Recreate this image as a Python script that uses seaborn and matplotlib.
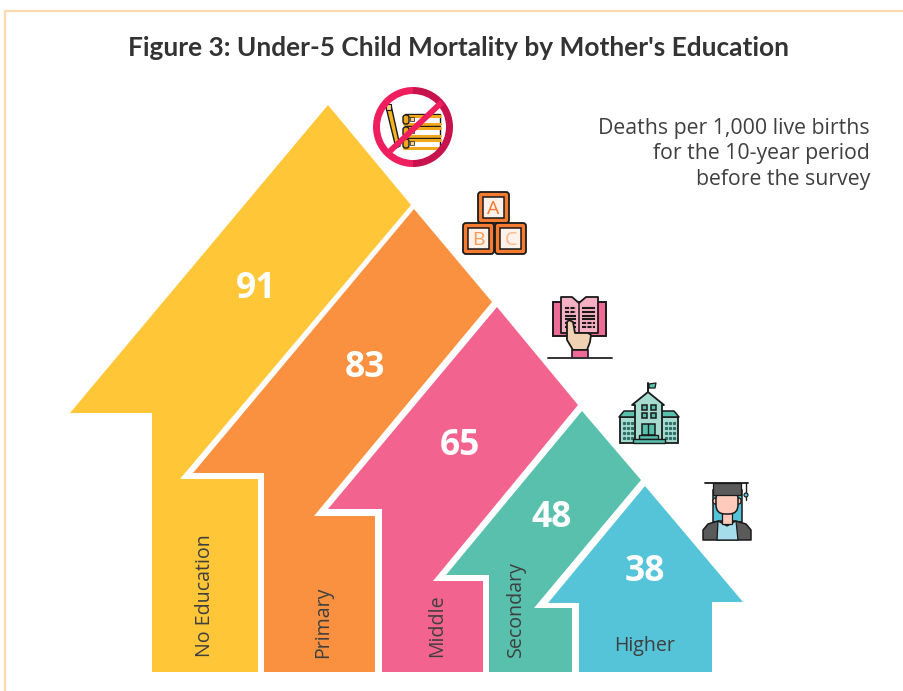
import matplotlib
matplotlib.use('Agg')
import matplotlib.pyplot as plt
import seaborn as sns
from matplotlib.patches import Circle, Ellipse, Wedge, Rectangle, FancyBboxPatch, Polygon

sns.set_theme(style='white')
plt.rcParams['font.family'] = ['Open Sans', 'DejaVu Sans']

categories = ['No Education', 'Primary', 'Middle', 'Secondary', 'Higher']
deaths = [91, 83, 65, 48, 38]
colors = ['#FFC737', '#F99141', '#F2648F', '#58C0AD', '#55C4D9']
title = "Figure 3: Under-5 Child Mortality by Mother's Education"
note = ['Deaths per 1,000 live births', 'for the 10-year period', 'before the survey']

# the arrows are a pictogram, their size is not scaled to the value
outlines = [
    [(328, 105), (411, 205), (180, 479), (258, 479), (258, 672), (152, 672), (152, 413), (70, 413)],
    [(414, 209), (492, 302), (314, 516), (375, 516), (375, 672), (264, 672), (264, 473), (193, 473)],
    [(497, 307), (578, 405), (433, 581), (483, 581), (483, 672), (382, 672), (382, 509), (328, 509)],
    [(582, 411), (641, 480), (534, 608), (572, 608), (572, 672), (489, 672), (489, 575), (446, 575)],
    [(645, 486), (743, 602), (712, 602), (712, 672), (579, 672), (579, 603), (548, 603)],
]
value_pos = [(256, 289), (365, 368), (460, 446), (552, 518), (645, 572)]
label_pos = [(205, 596), (323, 622), (437, 626), (516, 609), (645, 646)]
label_rot = [90, 90, 90, 90, 0]

TEXT = '#3F3F3F'
INK = '#1A1A1A'

fig = plt.figure(figsize=(9.04, 6.91), dpi=100)
ax = fig.add_axes([0, 0, 1, 1])
ax.set_xlim(0, 904)
ax.set_ylim(691, 0)
ax.axis('off')
palette = sns.color_palette(colors)


def poly(pts, fc, ec=INK, lw=1.1, z=5):
    ax.add_patch(Polygon(pts, closed=True, fc=fc, ec=ec, lw=lw, zorder=z, joinstyle='round'))


def box(x0, y0, x1, y1, fc, ec=INK, lw=1.1, z=5, r=0):
    if r:
        ax.add_patch(FancyBboxPatch((x0, y0), x1 - x0, y1 - y0, boxstyle=f'round,pad=0,rounding_size={r}',
                                    fc=fc, ec=ec, lw=lw, zorder=z))
    else:
        ax.add_patch(Rectangle((x0, y0), x1 - x0, y1 - y0, fc=fc, ec=ec, lw=lw, zorder=z))


# page frame
ax.plot([5, 5, 904], [691, 11, 11], color='#FDD9B0', lw=1.6, zorder=1)

ax.text(459, 48, title, ha='center', va='center', fontsize=18.95, fontweight='bold', color='#333333',
        family=['Lato', 'DejaVu Sans'])
for line, y in zip(note, [128, 153, 179]):
    ax.text(870, y, line, ha='right', va='center', fontsize=15.3, color=TEXT)

# arrows, values and category names
for i, name in enumerate(categories):
    ax.fill(*zip(*outlines[i]), color=palette[i], lw=0, zorder=2)
    ax.text(*value_pos[i], str(deaths[i]), ha='center', va='center', fontsize=25.5, fontweight='bold',
            color='white', zorder=3)
    ax.text(*label_pos[i], name, ha='center', va='center', rotation=label_rot[i], fontsize=14.1,
            color=TEXT, zorder=3)

# icon: no schooling
poly([(386, 107), (391, 105), (400, 146), (396, 148)], '#F5B324', lw=1)
box(386, 104, 391, 110, '#F7D58A', lw=0.8)
for y0 in [114, 126, 138]:
    box(405, y0, 440, y0 + 10, 'white', lw=1)
    ax.plot([404, 440], [y0 + 1.5, y0 + 1.5], color='#F2A81D', lw=2.2, zorder=5)
    ax.plot([404, 440], [y0 + 9.5, y0 + 9.5], color='#F2A81D', lw=2.2, zorder=5)
    box(403, y0 + 1, 409, y0 + 10, '#F2A81D', lw=1, r=2.5)
    box(410, y0 + 3, 414, y0 + 7, '#F7D58A', lw=0.5, z=6)
ax.add_patch(Wedge((413, 127), 40, 90, 270, width=7, fc='#EF1F5F', lw=0, zorder=6))
ax.add_patch(Wedge((413, 127), 40, 270, 450, width=7, fc='#C8124E', lw=0, zorder=6))
ax.plot([388, 442], [153, 102], color='#EF1F5F', lw=4.2, zorder=6, solid_capstyle='butt')

# icon: alphabet blocks
for x0, y0, letter, tint in [(478, 192, 'A', '#F47B30'), (463, 223, 'B', '#F99B55'), (495, 223, 'C', '#FBB587')]:
    box(x0, y0, x0 + 31, y0 + 31, '#F47B30', lw=1.3, r=3)
    box(x0 + 5, y0 + 5, x0 + 26, y0 + 26, '#FDF1EA', lw=1.1)
    ax.text(x0 + 15.5, y0 + 16.5, letter, ha='center', va='center', fontsize=14, color=tint, zorder=6)

# icon: open book in a hand
box(553, 302, 606, 336, '#EF6A96', lw=1.4)
poly([(561, 297), (572, 297), (579, 303), (586, 297), (598, 297), (598, 333), (561, 333)], '#F9AFC4', lw=1.3)
ax.plot([579, 579], [303, 333], color=INK, lw=1.1, zorder=6)
for y in [308, 312, 316, 319, 323, 327]:
    ax.plot([565, 576], [y, y], color=INK, lw=1.5, zorder=6, dashes=(2, 0.6) if y < 316 else (1, 0))
    ax.plot([582, 595], [y, y], color=INK, lw=1.5, zorder=6, dashes=(2, 0.6) if y > 320 else (1, 0))
poly([(567, 322), (569, 320), (573, 322), (575, 333), (588, 333), (591, 335), (590, 342), (587, 350),
      (573, 350), (567, 340)], '#F0D2B2', lw=1.3, z=7)
box(572, 350, 588, 358, '#EF6A96', lw=1.2, z=7)
ax.plot([548, 612], [358, 358], color='#333333', lw=1.4, zorder=8)

# icon: school building
sch = '#A6DCD0'
ax.plot([648, 648], [383, 392], color=INK, lw=1.4, zorder=5)
poly([(649, 384), (656, 383), (655, 388), (649, 388)], '#58C0AD', lw=0.9)
box(620, 417, 678, 443, sch, lw=1.3)
poly([(619, 417), (624, 411), (674, 411), (679, 417)], '#58C0AD', lw=1.1)
poly([(635, 443), (635, 405), (632, 405), (648, 392), (664, 405), (662, 405), (662, 443)], sch, lw=1.3, z=6)
for x0 in [642, 651]:
    for y0 in [405, 413]:
        box(x0, y0, x0 + 5, y0 + 5, '#58C0AD', lw=1.1, z=7)
box(642, 424, 655, 435, '#58C0AD', lw=1.1, z=7)
ax.plot([648.5, 648.5], [424, 435], color=INK, lw=1, zorder=8)
box(639, 435, 658, 439, '#58C0AD', lw=1, z=7)
box(633, 439, 665, 443, '#58C0AD', lw=1, z=7)
for x in [624, 628, 632, 666, 670, 674]:
    ax.plot([x] * 4, [423, 428, 433, 438], ls='none', marker='s', ms=1.3, color='#2F6F66', zorder=6)

# icon: graduate
box(713, 490, 742, 522, '#55C4D9', lw=1.1)
poly([(703, 540), (703, 530), (708, 524), (718, 521), (736, 521), (746, 524), (751, 530), (751, 540)], '#5A5A5A', lw=1.1, z=6)
poly([(718, 521), (727, 526), (736, 521), (738, 540), (717, 540)], '#A5DEEA', lw=0.9, z=7)
box(722, 512, 732, 524, '#FFC9BC', lw=0.9, z=7)
ax.add_patch(Ellipse((715, 501), 4, 6, fc='#FFC9BC', ec=INK, lw=0.9, zorder=7))
ax.add_patch(Ellipse((739, 501), 4, 6, fc='#FFC9BC', ec=INK, lw=0.9, zorder=7))
ax.add_patch(FancyBboxPatch((716, 490), 22, 24, boxstyle='round,pad=0,rounding_size=9', fc='#FFC9BC', ec=INK, lw=1.1, zorder=8))
box(713, 483, 741, 495, '#5A5A5A', lw=0.9, z=9)
ax.plot([705, 748], [483, 483], color=INK, lw=1.3, zorder=10)
ax.plot([746, 746], [483, 500], color=INK, lw=1, zorder=10)
ax.add_patch(Circle((746, 495), 2, fc='#55C4D9', ec=INK, lw=0.8, zorder=11))

fig.savefig('out.png', dpi=100)
